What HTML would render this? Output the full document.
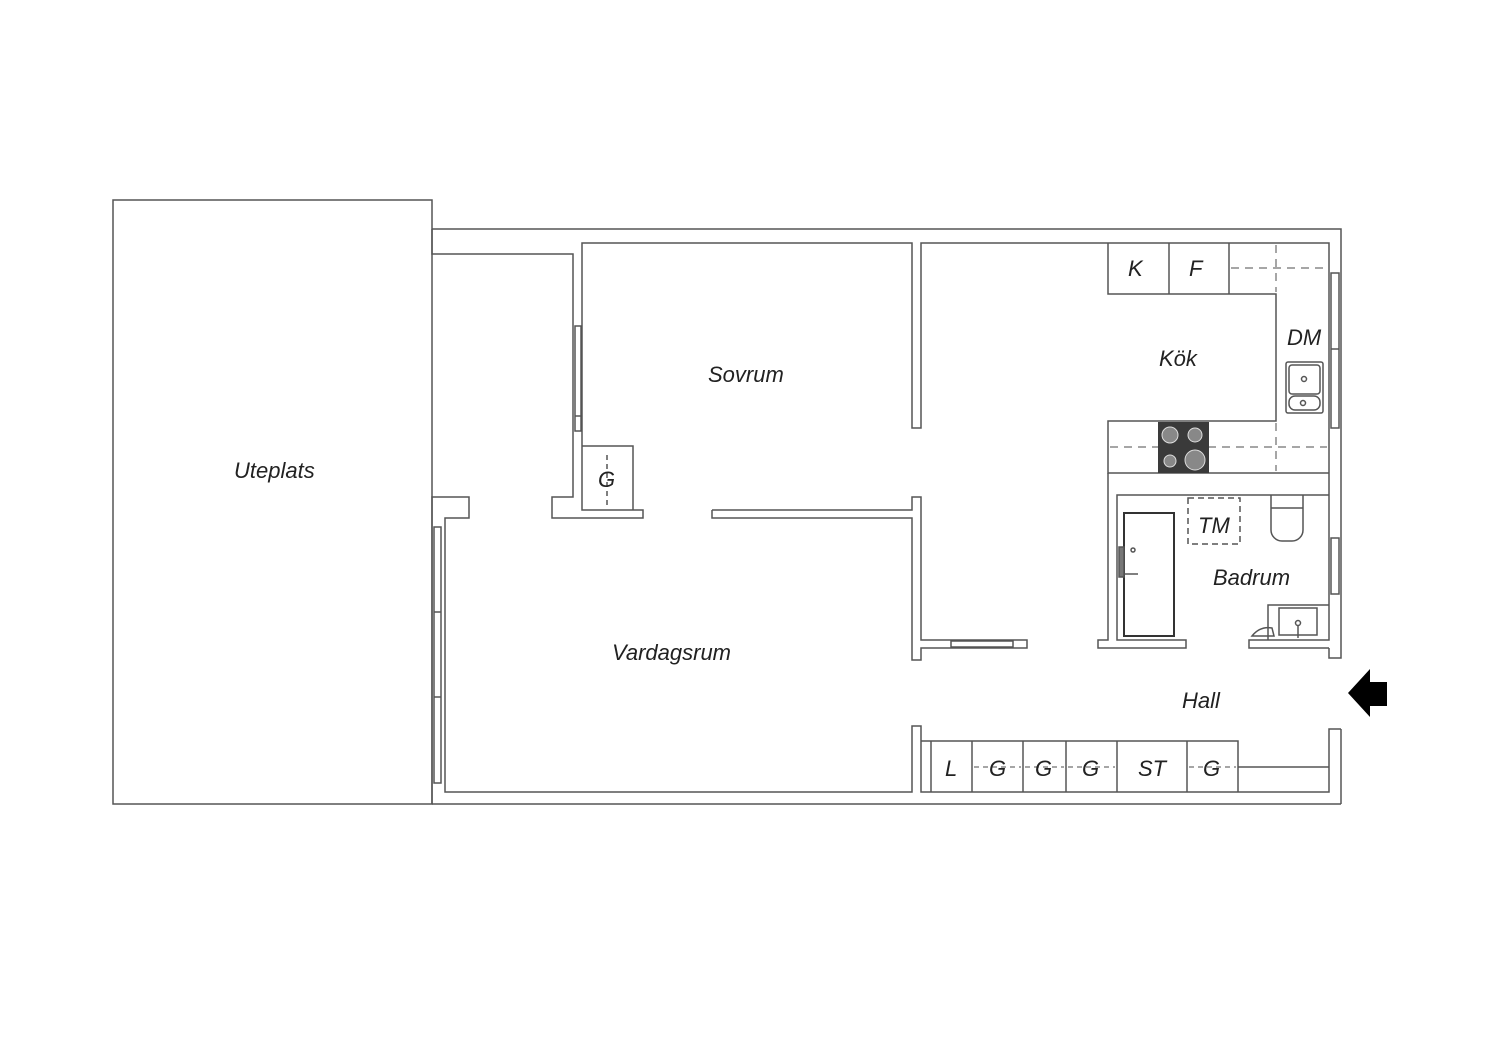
<!DOCTYPE html>
<html><head><meta charset="utf-8"><style>
html,body{margin:0;padding:0;background:#fff;}
svg{display:block}
text{font-family:"Liberation Sans",sans-serif;font-style:italic;fill:#222;}
</style></head><body>
<svg width="1500" height="1060" viewBox="0 0 1500 1060" xmlns="http://www.w3.org/2000/svg">
<g fill="none" stroke="#555" stroke-width="1.5">
<!-- Uteplats -->
<rect x="113" y="200" width="319" height="604"/>
<!-- outer top/right/bottom -->
<polyline points="432,229 1341,229 1341,658 1329,658 1329,648"/>
<polyline points="1341,729 1329,729 1329,792 921,792 921,741"/>
<line x1="432" y1="804" x2="1341" y2="804"/>
<line x1="1341" y1="729" x2="1341" y2="804"/>
<!-- top-left wall -->
<polyline points="432,229 432,254 573,254 573,497 552,497 552,518 643,518 643,510 582,510 582,243 912,243 912,428 921,428 921,243 1329,243 1329,640 1249,640 1249,648 1329,648"/>
<!-- G closet -->
<polyline points="582,446 633,446 633,510"/>
<line x1="607" y1="455" x2="607" y2="508" stroke-dasharray="5,4"/>
<!-- mid wall -->
<polyline points="712,510 912,510 912,497 921,497 921,640 1027,640 1027,648 921,648 921,660 912,660 912,518 712,518 712,510"/>
<!-- vardagsrum left -->
<polyline points="432,804 432,497 469,497 469,518 445,518 445,792 912,792 912,726 921,726 921,741"/>
<!-- windows -->
<rect x="434" y="527" width="7" height="256"/>
<line x1="434" y1="612" x2="441" y2="612"/><line x1="434" y1="697" x2="441" y2="697"/>
<rect x="575" y="326" width="6" height="105"/>
<line x1="575" y1="416" x2="581" y2="416"/>
<rect x="951" y="641" width="62" height="6"/>
<rect x="1331" y="273" width="8" height="155"/>
<line x1="1331" y1="349" x2="1339" y2="349"/>
<rect x="1331" y="538" width="8" height="56"/>
<!-- kitchen counters -->
<polyline points="1108,243 1108,294 1276,294 1276,421 1108,421 1108,473 1329,473"/>
<line x1="1169" y1="243" x2="1169" y2="294"/>
<line x1="1229" y1="243" x2="1229" y2="294"/>
<g stroke-dasharray="8,6" stroke="#888">
<line x1="1231" y1="268" x2="1327" y2="268"/>
<line x1="1276" y1="245" x2="1276" y2="292"/>
<line x1="1110" y1="447" x2="1327" y2="447"/>
<line x1="1276" y1="423" x2="1276" y2="471"/>
</g>
<!-- sink -->
<rect x="1286" y="362" width="37" height="51" rx="2"/>
<rect x="1289" y="365" width="31" height="29" rx="3"/>
<rect x="1289" y="396" width="31" height="14" rx="6"/>
<circle cx="1304" cy="379" r="2.5"/><circle cx="1303" cy="403" r="2.5"/>
<!-- bathroom -->
<polyline points="1108,473 1108,640 1098,640 1098,648 1186,648 1186,640 1117,640 1117,495 1329,495"/>
<rect x="1124" y="513" width="50" height="123" stroke="#333" stroke-width="2"/>
<rect x="1119" y="547" width="5" height="30" fill="#777"/>
<line x1="1124" y1="574" x2="1138" y2="574"/>
<circle cx="1133" cy="550" r="2"/>
<rect x="1188" y="498" width="52" height="46" stroke-dasharray="6,4"/>
<path d="M1271,495 V530 a11,11 0 0 0 11,11 h10 a11,11 0 0 0 11,-11 V495"/>
<line x1="1271" y1="508" x2="1303" y2="508"/>
<polyline points="1268,640 1268,605 1329,605"/>
<rect x="1279" y="608" width="38" height="27"/>
<circle cx="1298" cy="623" r="2.5"/><line x1="1298" y1="626" x2="1298" y2="638"/>
<path d="M1252,636 q8,-10 20,-8 l2,8 z"/>
<!-- storage -->
<polyline points="921,741 1238,741 1238,792"/>
<line x1="931" y1="741" x2="931" y2="792"/>
<line x1="972" y1="741" x2="972" y2="792"/>
<line x1="1023" y1="741" x2="1023" y2="792"/>
<line x1="1066" y1="741" x2="1066" y2="792"/>
<line x1="1117" y1="741" x2="1117" y2="792"/>
<line x1="1187" y1="741" x2="1187" y2="792"/>
<line x1="1238" y1="767" x2="1329" y2="767"/>
<g stroke-dasharray="5,4" stroke="#888">
<line x1="974" y1="767" x2="1021" y2="767"/>
<line x1="1025" y1="767" x2="1064" y2="767"/>
<line x1="1068" y1="767" x2="1115" y2="767"/>
<line x1="1189" y1="767" x2="1236" y2="767"/>
</g>
</g>
<!-- stove -->
<rect x="1158" y="422" width="51" height="51" fill="#3a3a3a"/>
<g fill="#888" stroke="#ddd" stroke-width="1">
<circle cx="1170" cy="435" r="8"/><circle cx="1195" cy="435" r="7"/>
<circle cx="1170" cy="461" r="6"/><circle cx="1195" cy="460" r="10"/>
</g>
<!-- arrow -->
<polygon points="1348,693 1370,669 1370,682 1387,682 1387,706 1370,706 1370,717" fill="#000"/>
<!-- labels -->
<g font-size="22">
<text x="234" y="478">Uteplats</text>
<text x="708" y="382">Sovrum</text>
<text x="612" y="660">Vardagsrum</text>
<text x="1159" y="366">Kök</text>
<text x="1287" y="345">DM</text>
<text x="1128" y="276">K</text>
<text x="1189" y="276">F</text>
<text x="598" y="487">G</text>
<text x="1198" y="533">TM</text>
<text x="1213" y="585">Badrum</text>
<text x="1182" y="708">Hall</text>
<text x="945" y="776">L</text>
<text x="989" y="776">G</text>
<text x="1035" y="776">G</text>
<text x="1082" y="776">G</text>
<text x="1138" y="776">ST</text>
<text x="1203" y="776">G</text>
</g>
</svg>
</body></html>
